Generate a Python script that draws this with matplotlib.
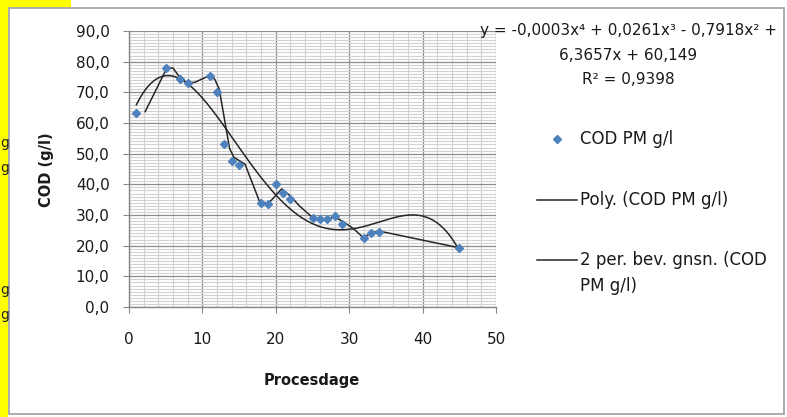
import numpy as np
import matplotlib
matplotlib.use("Agg")
import matplotlib.pyplot as plt
from matplotlib.patches import Rectangle
from matplotlib.lines import Line2D
from matplotlib.ticker import MultipleLocator, FuncFormatter

# ---- data ----
days = [1, 5, 7, 8, 11, 12, 13, 14, 15, 18, 19, 20, 21, 22, 25, 26, 27, 28, 29, 32, 33, 34, 45]
cod = [63.4, 78.0, 74.5, 72.9, 75.2, 70.0, 53.0, 47.7, 46.4, 33.9, 33.5, 40.0, 37.3, 35.1,
       28.9, 28.7, 28.7, 29.8, 27.1, 22.6, 24.2, 24.6, 19.3]

# moving-average trendline vertices as drawn in the reference
ma_x = [2.2, 5.2, 6.0, 7.0, 8.0, 9.0, 11.0, 11.7, 12.3, 13.7, 14.3, 15.3, 15.8, 17.8, 19.0,
        20.8, 22.0, 23.2, 24.9, 26.0, 27.1, 28.0, 29.2, 30.5, 31.9, 33.0, 34.0, 45.0]
ma_y = [63.7, 78.1, 77.9, 74.6, 73.0, 73.3, 75.5, 74.2, 71.0, 51.7, 48.8, 47.3, 46.6, 34.3, 33.8,
        38.5, 36.2, 33.0, 29.4, 28.7, 28.7, 29.4, 27.8, 25.7, 22.7, 24.0, 24.8, 19.3]

x_ticks = [0, 10, 20, 30, 40, 50]
y_ticks = [0, 10, 20, 30, 40, 50, 60, 70, 80, 90]

eq_lines = ["y = -0,0003x\u2074 + 0,0261x\u00b3 - 0,7918x\u00b2 +", "6,3657x + 60,149", "R\u00b2 = 0,9398"]
legend_labels = ["COD PM g/l", "Poly. (COD PM g/l)", "2 per. bev. gnsn. (COD", "PM g/l)"]

W, H = 787, 417
def fx(x): return x / W
def fy(y): return 1 - y / H

plt.rcParams['font.family'] = ['DejaVu Sans']
fig = plt.figure(figsize=(W / 100, H / 100), dpi=100)
fig.patch.set_facecolor('white')

# background decorations
fig.add_artist(Rectangle((0, 0), fx(8), 1, facecolor='#ffff00', edgecolor='none', zorder=-3))
fig.add_artist(Rectangle((0, fy(7)), fx(71), 7 / H, facecolor='#ffff00', edgecolor='none', zorder=-3))
fig.add_artist(Rectangle((fx(9), fy(414)), (784 - 9) / W, (414 - 8) / H, facecolor='white',
                         edgecolor='#a6a6a6', lw=1.3, zorder=-2))
for yy in [143, 168, 290, 315]:
    fig.text(fx(0), fy(yy), 'g', ha='left', va='center', fontsize=10, color='#222222')

ax = fig.add_axes([fx(129), fy(307), (496 - 129) / W, (307 - 31) / H])
ax.set_zorder(1)
ax.set_xlim(0, 50)
ax.set_ylim(0, 90)
ax.set_facecolor('none')

ax.xaxis.set_minor_locator(MultipleLocator(2))
ax.yaxis.set_minor_locator(MultipleLocator(1))
ax.set_xticks(x_ticks)
ax.set_yticks(y_ticks)
ax.yaxis.set_major_formatter(FuncFormatter(lambda v, p: f"{v:.1f}".replace('.', ',')))
ax.xaxis.set_major_formatter(FuncFormatter(lambda v, p: f"{int(v)}"))

ax.grid(which='minor', color='#d2d2d2', lw=0.8)
ax.grid(which='major', color='#8c8c8c', lw=0.9)
ax.set_axisbelow(True)
for s in ['top', 'right']:
    ax.spines[s].set_visible(False)
for s in ['left', 'bottom']:
    ax.spines[s].set_color('#868686')
    ax.spines[s].set_linewidth(1.0)
ax.tick_params(which='minor', length=0)
ax.tick_params(axis='y', which='major', length=4, color='#868686', pad=10, labelsize=11, labelcolor='#1a1a1a')
ax.tick_params(axis='x', which='major', length=4, color='#868686', pad=14, labelsize=11, labelcolor='#1a1a1a')

# polynomial trendline (order 4) fitted to the data
coef = np.polyfit(days, cod, 4)
xs = np.linspace(min(days), max(days), 300)
ax.plot(xs, np.polyval(coef, xs), color='#262626', lw=1.1, zorder=3)
# moving average trendline
ax.plot(ma_x, ma_y, color='#262626', lw=1.1, zorder=3)
# data points
ax.plot(days, cod, linestyle='none', marker='D', ms=4.2, color='#4f81bd', zorder=4)

# axis titles
fig.text(fx(47), fy(170), 'COD (g/l)', rotation=90, ha='center', va='center',
         fontsize=10.5, fontweight='bold', color='#1a1a1a')
fig.text(fx(312), fy(380), 'Procesdage', ha='center', va='center',
         fontsize=10.5, fontweight='bold', color='#1a1a1a')

# trendline equation
for txt, yy in zip(eq_lines, [31, 55, 79]):
    fig.text(fx(628), fy(yy), txt, ha='center', va='center', fontsize=11, color='#1a1a1a')

# legend
fig.add_artist(Line2D([fx(557)], [fy(139)], marker='D', ms=4.2, color='#4f81bd', linestyle='none'))
fig.text(fx(580), fy(139), legend_labels[0], ha='left', va='center', fontsize=12, color='#1a1a1a')
fig.add_artist(Line2D([fx(537), fx(577)], [fy(200), fy(200)], color='#262626', lw=1.1))
fig.text(fx(580), fy(200), legend_labels[1], ha='left', va='center', fontsize=12, color='#1a1a1a')
fig.add_artist(Line2D([fx(537), fx(577)], [fy(260), fy(260)], color='#262626', lw=1.1))
fig.text(fx(580), fy(260), legend_labels[2], ha='left', va='center', fontsize=12, color='#1a1a1a')
fig.text(fx(580), fy(286), legend_labels[3], ha='left', va='center', fontsize=12, color='#1a1a1a')

fig.savefig('out.png', dpi=100)
